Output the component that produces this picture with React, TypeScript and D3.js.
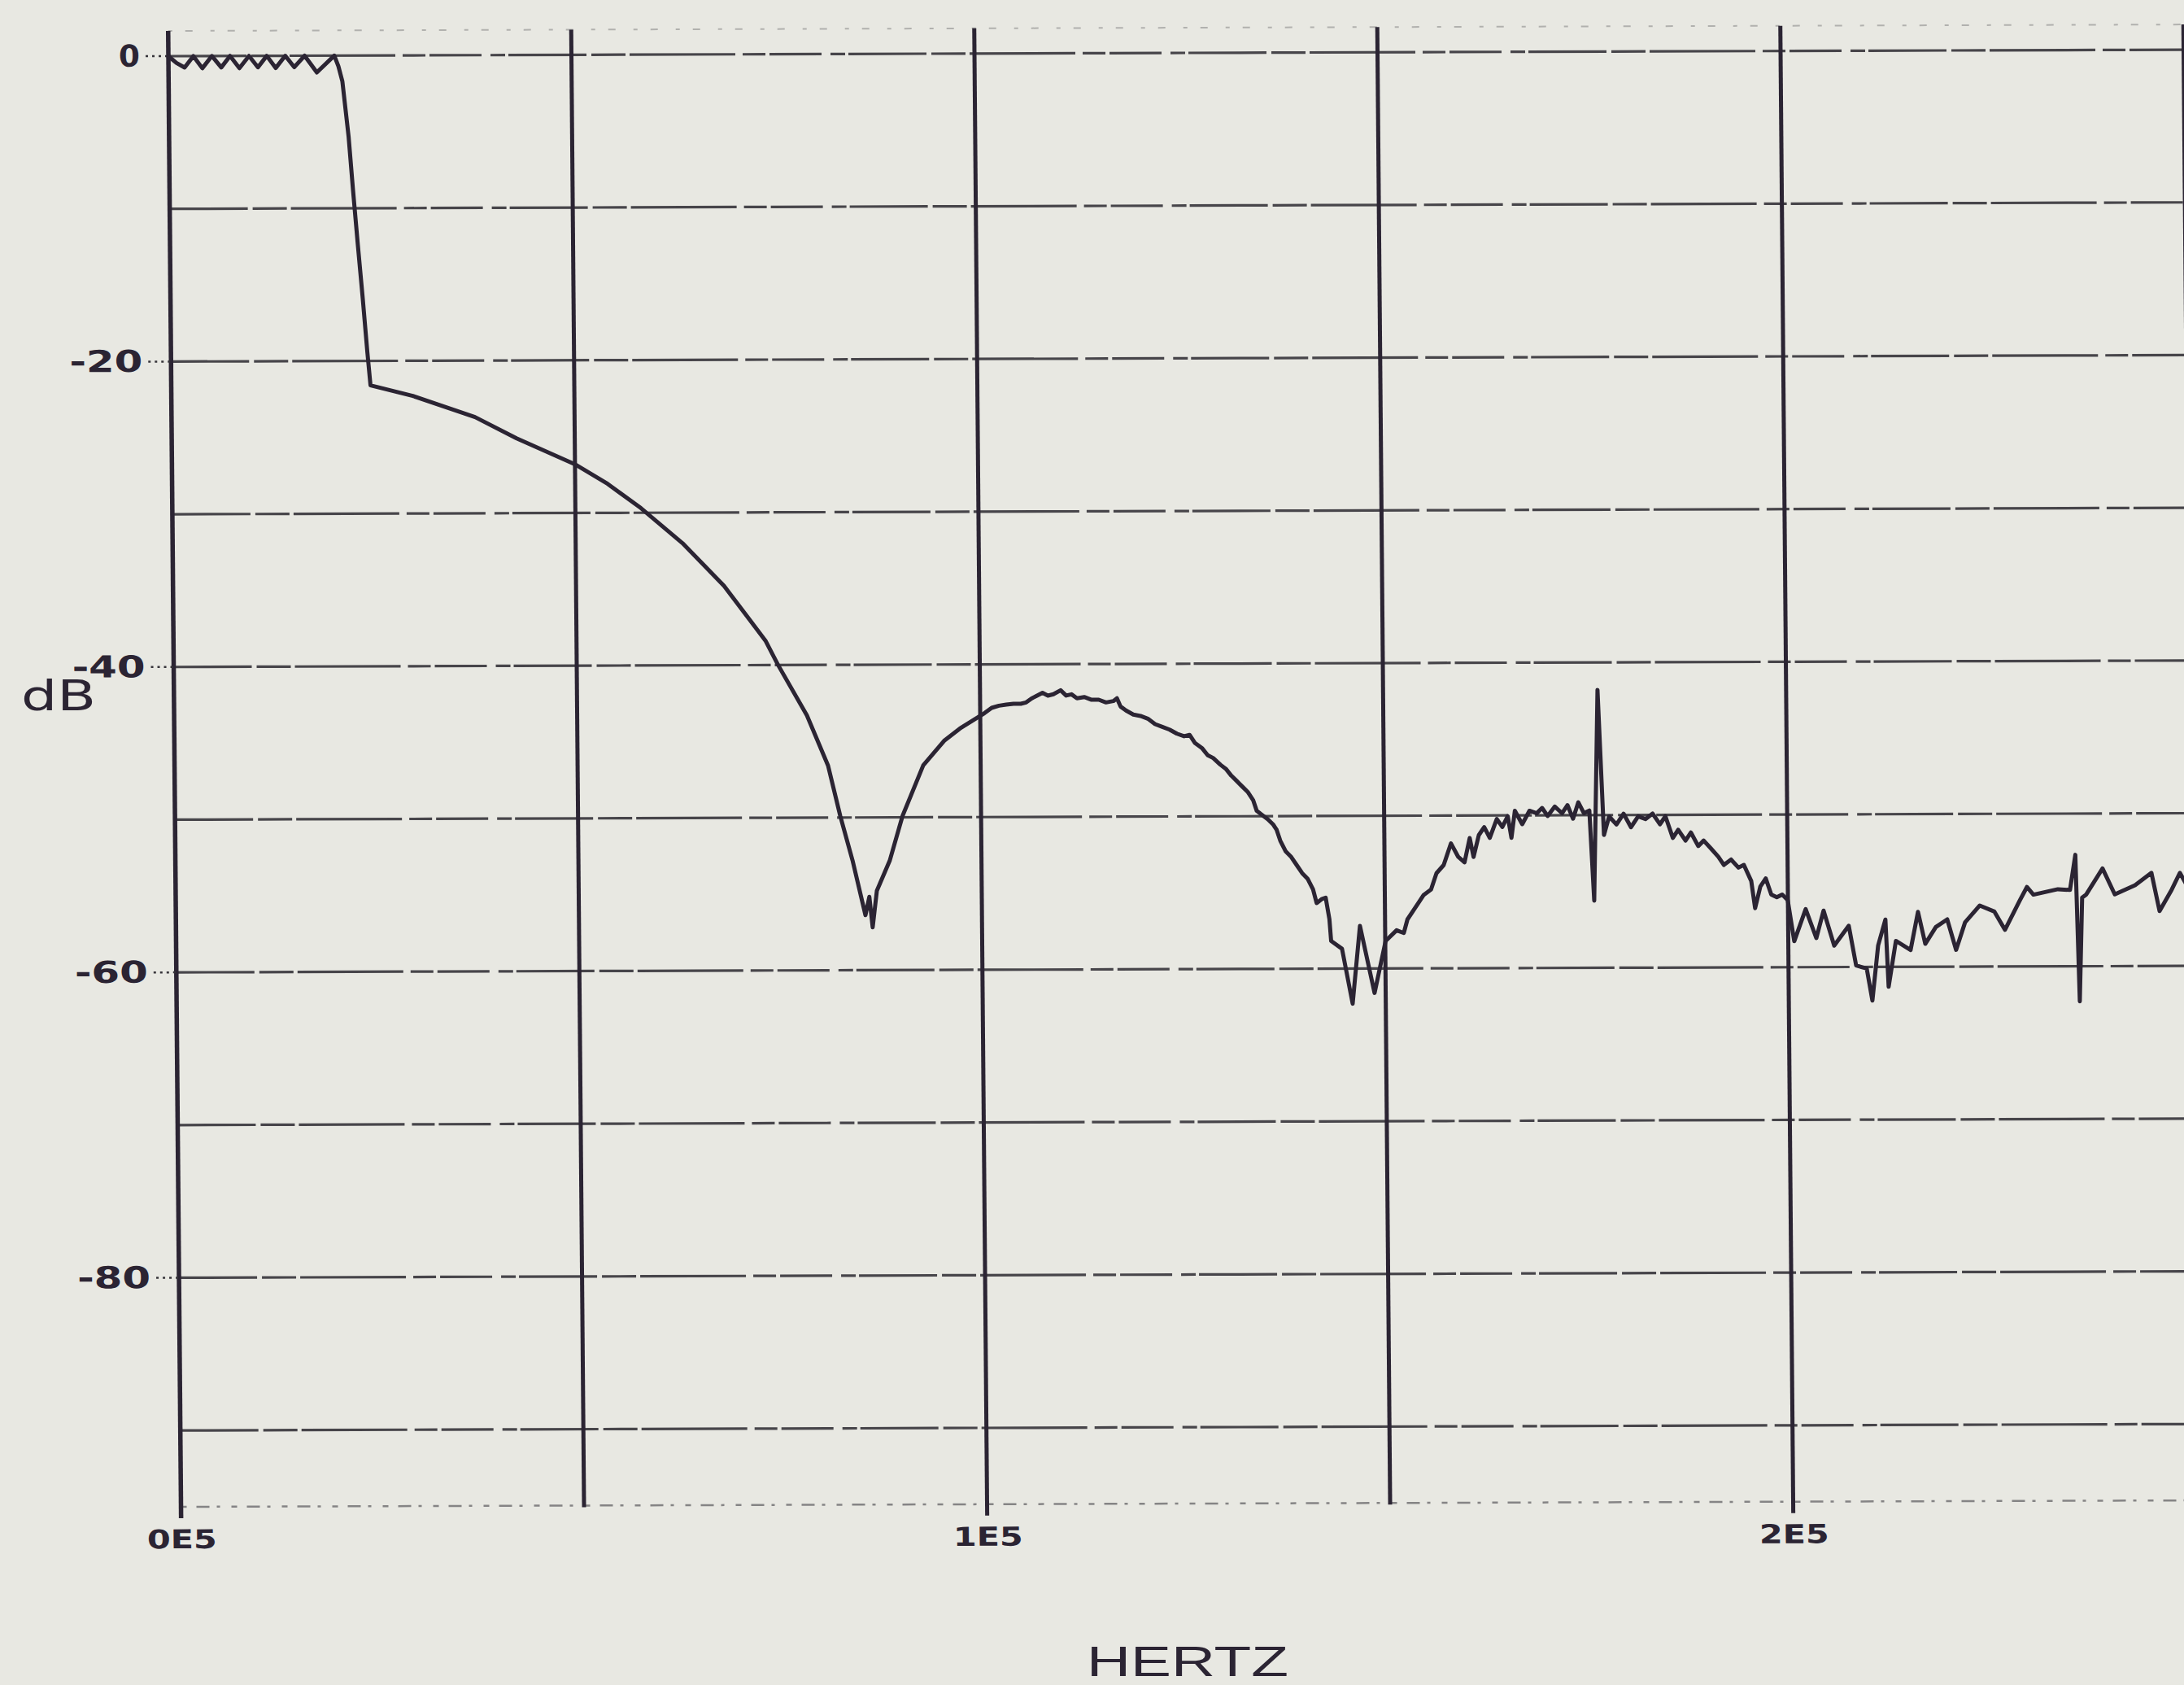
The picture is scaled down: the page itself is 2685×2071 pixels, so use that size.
import React from "react";
import * as d3 from "d3";

// Canvas size
const W = 2685;
const H = 2071;

// Measured frequency response: frequency (Hz) and gain (dB), point by point
const freqHz = [
  // passband ripple and transition
  0, 1000, 2000, 3100, 4200, 5400, 6550, 7650, 8800, 10000, 11100, 12200, 13300,
  14500, 15600, 16900, 18400, 20580, 21080, 21560, 22270, 22760, 23300, 23850,
  24360, 24720,
  // main stopband decay and first notch
  29960, 37650, 42780, 49960, 54030, 58140, 63250, 68350, 73440, 74980, 78500,
  81070, 82530, 84000, 85550, 86050, 86430, 86990, 88640, 90260, 92880, 95490,
  97460,
  // second lobe
  100520, 101430, 102330, 103240, 104140, 105040, 105710, 106390, 107070, 107750,
  108420, 109100, 110000, 110680, 111350, 112020, 112920, 113830, 114720, 115620,
  116530, 116980, 117420, 118090, 118990, 119880, 120790, 121680, 122580, 123470,
  124380, 125270, 125950, 126620, 127510, 128180, 128850, 129740, 130410, 131080,
  131750, 132420, 133090, 133760, 134200, 134870, 135540, 136210, 136650, 137090,
  137760, 138430, 139100, 139770, 140430, 141100, 141530, 142210, 142660, 143100,
  143290, 144630, 145890, 146880, 148620,
  // third lobe with spur
  150050, 151420, 152310, 152780, 153690, 154150, 154820, 155740, 156430, 157330,
  158260, 159150, 159920, 160590, 161050, 161720, 162400, 163080, 163970, 164650,
  165330, 165770, 166220, 167120, 168030, 168930, 169600, 170280, 171180, 172070,
  172750, 173430, 174100, 174780, 175460, 175970, 176600, 177250, 177910, 178810,
  179700, 180610, 181510, 182410, 183300, 184210, 184890, 185790, 186460, 187360,
  188040, 188930, 189610, 190520, 191420, 192090, 192990, 193900, 194570, 195470,
  195920, 196590, 197270, 197940, 198620, 199300, 199970,
  // noisy floor beyond 2E5
  200740, 202190, 203480, 204410, 205690, 207520, 208390, 209700, 210370, 211140,
  212070, 212400, 213350, 215160, 216120, 216990, 218320, 219740, 220810, 221950,
  223790, 225600, 226890, 228740, 229660, 230460, 233500, 235000, 235700, 236100,
  236500, 237010, 239060, 240550, 243080, 245120, 246090, 247620, 248650, 250000,
];
const gainDb = [
  0, -0.45, -0.75, 0, -0.8, 0, -0.75, 0, -0.8, 0, -0.75, 0, -0.8,
  0, -0.75, 0, -1.1, 0, -0.7, -1.7, -5.3, -8.8, -12.4, -15.9,
  -19.4, -21.6,
  -22.3, -23.7, -25.1, -26.8, -28.1, -29.7, -32.0, -34.8, -38.4, -40.0, -43.3,
  -46.6, -49.9, -52.8, -56.4, -55.2, -57.2, -54.8, -52.8, -49.9, -46.6, -45.0,
  -44.2,
  -43.2, -42.85, -42.71, -42.64, -42.59, -42.59, -42.5, -42.24, -42.06, -41.88,
  -42.06, -41.97, -41.71, -42.06, -41.98, -42.24, -42.16, -42.34, -42.34, -42.52,
  -42.43, -42.25, -42.79, -43.05, -43.32, -43.41, -43.59, -43.95, -44.13, -44.31,
  -44.58, -44.75, -44.66, -45.2, -45.55, -46.0, -46.18, -46.62, -46.89, -47.34,
  -47.69, -48.05, -48.4, -48.94, -49.65, -49.92, -50.19, -50.54, -50.9, -51.61,
  -52.32, -52.68, -53.21, -53.74, -54.1, -54.81, -55.7, -55.43, -55.35, -56.77,
  -58.19, -58.7, -62.3, -57.2, -61.6,
  -58.2, -57.5, -57.68, -56.79, -56.08, -55.72, -55.19, -54.84, -53.77, -53.24,
  -51.82, -52.71, -53.07, -51.47, -52.71, -51.29, -50.76, -51.47, -50.23, -50.76,
  -50.05, -51.47, -49.7, -50.58, -49.7, -49.87, -49.52, -50.05, -49.43, -49.87,
  -49.34, -50.23, -49.16, -49.87, -49.7, -55.6, -41.8, -51.3, -50.09, -50.62,
  -49.91, -50.8, -50.09, -50.27, -49.91, -50.62, -50.09, -51.51, -50.98, -51.69,
  -51.16, -52.05, -51.69, -52.22, -52.76, -53.29, -52.94, -53.47, -53.29, -54.35,
  -56.13, -54.71, -54.18, -55.24, -55.42, -55.24, -55.6,
  -58.3, -56.2, -58.1, -56.3, -58.6, -57.3, -59.9, -60.1, -62.2, -58.6,
  -56.9, -61.3, -58.3, -58.9, -56.4, -58.5, -57.4, -56.9, -58.9, -57.1,
  -56.0, -56.4, -57.6, -55.7, -54.8, -55.3, -54.95, -55.0, -52.7, -62.3,
  -55.5, -55.3, -53.6, -55.3, -54.7, -53.9, -56.4, -55.0, -53.9, -55.2,
];

// Grid and tick definitions
const gridFreqs = [0, 50000, 100000, 150000, 200000, 250000];
const gridDb = [0, -10, -20, -30, -40, -50, -60, -70, -80, -90];
const dbTickValues = [0, -20, -40, -60, -80];
const dbTickLabels = ["0", "-20", "-40", "-60", "-80"];
const freqTickValues = [0, 100000, 200000];
const freqTickLabels = ["0E5", "1E5", "2E5"];
const TOP_DB = 1.65;
const BOTTOM_DB = -95;

const BG = "#e8e8e2";
const INK = "#2b2433";
const GRID = "#36343a";

// Scales in plot-local coordinates (origin at 0 Hz / 0 dB)
const x = d3.scaleLinear().domain([0, 250000]).range([0, 2477.5]);
const y = d3.scaleLinear().domain([0, BOTTOM_DB]).range([0, 1783]);

// The plotter sheet sits slightly askew on the page
const PLOT_TRANSFORM = "matrix(1,-0.0032,0.0087,1,207,69)";

const tracePath =
  d3
    .line<number>()
    .x((d) => x(d))
    .y((_, i) => y(gainDb[i]))
    .curve(d3.curveLinear)(freqHz) || "";

export default function App() {
  const yTop = y(TOP_DB);
  const yBottom = y(BOTTOM_DB);
  const xRight = x(250000);
  return (
    <svg
      width={W}
      height={H}
      viewBox={`0 0 ${W} ${H}`}
      style={{ position: "absolute", left: 0, top: 0, background: BG }}
    >
      <rect x={0} y={0} width={W} height={H} fill={BG} />
      <g transform={PLOT_TRANSFORM}>
        {/* top and bottom frame lines (faint dotted) */}
        <line
          x1={0}
          x2={xRight}
          y1={yTop}
          y2={yTop}
          stroke={GRID}
          strokeWidth={2}
          strokeDasharray="5 16 9 22"
          opacity={0.3}
        />
        <line
          x1={0}
          x2={xRight}
          y1={yBottom}
          y2={yBottom}
          stroke={GRID}
          strokeWidth={2.5}
          strokeDasharray="7 12 16 9 4 14"
          opacity={0.55}
        />
        {/* horizontal dB grid */}
        {gridDb.map((v) => (
          <line
            key={`h${v}`}
            x1={0}
            x2={xRight}
            y1={y(v)}
            y2={y(v)}
            stroke={GRID}
            strokeWidth={3.2}
            strokeDasharray="96 6 42 5 130 9 28 5 64 11 18 4"
            opacity={0.9}
          />
        ))}
        {/* vertical frequency grid */}
        {gridFreqs.map((f) => {
          const labeled = freqTickValues.includes(f);
          return (
            <line
              key={`v${f}`}
              x1={x(f)}
              x2={x(f)}
              y1={yTop}
              y2={yBottom + (labeled ? 14 : 2)}
              stroke={INK}
              strokeWidth={f === 0 ? 5.5 : 5}
            />
          );
        })}
        {/* dB tick leaders and labels */}
        {dbTickValues.map((v, i) => (
          <g key={`t${v}`}>
            <line
              x1={-28}
              x2={0}
              y1={y(v)}
              y2={y(v)}
              stroke={GRID}
              strokeWidth={2.5}
              strokeDasharray="3 5"
            />
            <text
              x={-35}
              y={y(v)}
              textAnchor="end"
              dominantBaseline="central"
              fontFamily="DejaVu Sans"
              fontWeight={700}
              fontSize={37}
              fill={INK}
              textLength={dbTickLabels[i].length > 1 ? 90 : 26}
              lengthAdjust="spacingAndGlyphs"
            >
              {dbTickLabels[i]}
            </text>
          </g>
        ))}
        {/* frequency tick labels */}
        {freqTickValues.map((f, i) => (
          <text
            key={`f${f}`}
            x={x(f) + 1}
            y={yBottom + 40}
            textAnchor="middle"
            dominantBaseline="central"
            fontFamily="DejaVu Sans"
            fontWeight={700}
            fontSize={32}
            fill={INK}
            textLength={86}
            lengthAdjust="spacingAndGlyphs"
          >
            {freqTickLabels[i]}
          </text>
        ))}
        {/* response trace */}
        <path
          d={tracePath}
          fill="none"
          stroke={INK}
          strokeWidth={5}
          strokeLinejoin="round"
          strokeLinecap="round"
        />
      </g>
      {/* axis titles */}
      <text
        x={26}
        y={873}
        fontFamily="DejaVu Sans"
        fontSize={52}
        fill={INK}
        textLength={92}
        lengthAdjust="spacingAndGlyphs"
      >
        dB
      </text>
      <text
        x={1336}
        y={2060}
        fontFamily="Liberation Sans"
        fontSize={52}
        fill={INK}
        textLength={248}
        lengthAdjust="spacingAndGlyphs"
      >
        HERTZ
      </text>
    </svg>
  );
}
